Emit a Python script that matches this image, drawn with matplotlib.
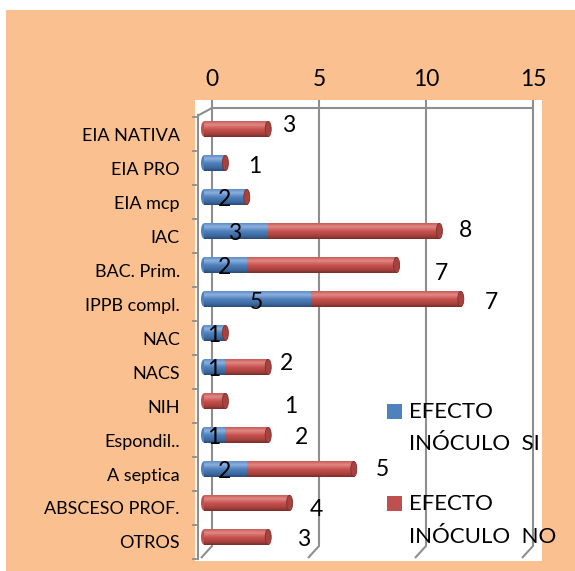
import matplotlib
matplotlib.use("Agg")
import matplotlib.pyplot as plt
import numpy as np
import matplotlib.transforms as mtransforms
from matplotlib.patches import Rectangle, Ellipse
from matplotlib.colors import LinearSegmentedColormap

# ---- data ----
categories = ["EIA NATIVA", "EIA PRO", "EIA mcp", "IAC", "BAC. Prim.", "IPPB compl.",
              "NAC", "NACS", "NIH", "Espondil..", "A septica", "ABSCESO PROF.", "OTROS"]
inoculo_si = [0, 1, 2, 3, 2, 5, 1, 1, 0, 1, 2, 0, 0]
inoculo_no = [3, 0, 0, 8, 7, 7, 0, 2, 1, 2, 5, 4, 3]
x_ticks = [0, 5, 10, 15]
series_names = ["EFECTO\nINÓCULO  SI", "EFECTO\nINÓCULO  NO"]

# data-label nudges in pixels (dx right, dy up)
si_label_dx = [-9, 32, -9, -9, -9, -9, -9, -9, -9, -9, -9, -9, -9]
si_label_dy = [3, 2, 3, 3, 3, 2, 3, 3, 3, 3, 3, 3, 3]
no_label_dx = [12, 0, 0, 18, 37, 23, 0, 10, 57, 25, 21, 19, 27]
no_label_dy = [9, 0, 0, 6, -3, 2, 0, 9, 0, 3, 5, -2, 2]

plt.rcParams["font.family"] = ["Lato", "DejaVu Sans"]

W, H, DPI = 575, 571, 100
PEACH = "#FAC090"
GRID = "#8E8E8E"
BLUE = "#4F81BD"
RED = "#C0504D"


def fx(px):
    return px / W


def fy(py):
    return 1 - py / H


fig = plt.figure(figsize=(W / DPI, H / DPI), dpi=DPI, facecolor="white")
fig.add_artist(Rectangle((fx(6), fy(571)), fx(575) - fx(6), fy(10) - fy(571),
                         transform=fig.transFigure, facecolor=PEACH,
                         edgecolor="none", zorder=-5))

ax = fig.add_axes([fx(195), fy(561), fx(542) - fx(195), fy(100) - fy(561)])
ax.set_facecolor("white")
for s in ax.spines.values():
    s.set_visible(False)

# plot scale: value 0 sits at x=212px, 21.4 px per unit; rows 34 px apart from y=134px
PXU, X0 = 21.4, 212
ROW, R0 = 34, 134


def dx_(px):
    return (px - X0) / PXU


def dy_(py):
    return (py - R0) / ROW


xlim = (dx_(195), dx_(542))
ylim = (dy_(561), dy_(100))

# ---- 3D frame: back-wall gridlines, floor bend, side axis ----
yt, yb = dy_(108), dy_(546)
bend_x, bend_y = -11 / PXU, 12 / ROW
for v in x_ticks:
    ax.plot([v, v, v + bend_x], [yt, yb, yb + bend_y], color=GRID, lw=1.5,
            clip_on=False, zorder=1, solid_capstyle="butt")
ax.plot([x_ticks[0], x_ticks[-1]], [yt, yt], color=GRID, lw=1.5, clip_on=False, zorder=1)
ax.plot([0, dx_(199)], [yt, dy_(115)], color=GRID, lw=1.5, clip_on=False, zorder=1)
xa = dx_(198)
ax.plot([xa, xa], [dy_(115), dy_(559)], color=GRID, lw=1.5, clip_on=False, zorder=1)
for k in range(len(categories) + 1):
    yk = k - 0.5
    ax.plot([dx_(193), xa], [yk, yk], color=GRID, lw=1.3, clip_on=False, zorder=1)

# ---- cylinder bars ----
bar_tr = ax.transData + mtransforms.ScaledTranslation(-8 / DPI, 5 / DPI, fig.dpi_scale_trans)
blue_cmap = LinearSegmentedColormap.from_list(
    "cyl_blue", [(0, "#5F8CC6"), (0.22, "#8DB0DE"), (0.5, "#4F81BD"),
                 (0.82, "#3C679B"), (1, "#284B78")])
red_cmap = LinearSegmentedColormap.from_list(
    "cyl_red", [(0, "#C95A57"), (0.22, "#E08986"), (0.5, "#C9524F"),
                (0.82, "#A2403D"), (1, "#7B2C2A")])
grad = np.linspace(0, 1, 64).reshape(-1, 1)

ypos = np.arange(len(categories))
bh = 0.45
lefts_no = np.array(inoculo_si)
totals = np.array(inoculo_si) + np.array(inoculo_no)

# rounded left ends
for i in ypos:
    if totals[i] > 0:
        c = BLUE if inoculo_si[i] > 0 else RED
        e = Ellipse((0, i), 6 / PXU, bh, facecolor=c, edgecolor="none", zorder=2)
        e.set_transform(bar_tr)
        ax.add_patch(e)

for vals, lefts, cmap, base in [(inoculo_si, np.zeros(len(categories)), blue_cmap, BLUE),
                                (inoculo_no, lefts_no, red_cmap, RED)]:
    bars = ax.barh(ypos, vals, left=lefts, height=bh, color=base, zorder=3)
    for b in bars:
        b.set_transform(bar_tr)
        w = b.get_width()
        if w <= 0:
            continue
        x0, y0 = b.get_x(), b.get_y()
        im = ax.imshow(grad, cmap=cmap, aspect="auto", interpolation="bilinear",
                       extent=(x0, x0 + w, y0 + bh, y0), origin="upper", zorder=3.5)
        im.set_transform(bar_tr)
        im.set_clip_path(b)

# right end caps (top series colour)
for i in ypos:
    if totals[i] > 0:
        e = Ellipse((totals[i], i), 6 / PXU, bh, facecolor="#A8423F",
                    edgecolor="#7E2F2D", lw=0.6, zorder=4)
        e.set_transform(bar_tr)
        ax.add_patch(e)

# ---- data labels ----
for i in ypos:
    if inoculo_si[i] > 0:
        ax.annotate(str(inoculo_si[i]), xy=(inoculo_si[i] / 2, i),
                    xytext=(si_label_dx[i], si_label_dy[i]), textcoords="offset pixels",
                    ha="center", va="center", fontsize=16.5, zorder=6)
    if inoculo_no[i] > 0:
        ax.annotate(str(inoculo_no[i]), xy=(totals[i], i),
                    xytext=(no_label_dx[i], no_label_dy[i]), textcoords="offset pixels",
                    ha="center", va="center", fontsize=16.5, zorder=6)

# ---- axes ----
ax.set_xlim(*xlim)
ax.set_ylim(*ylim)
ax.set_xticks(x_ticks)
ax.set_xticklabels([str(t) for t in x_ticks], fontsize=16.5)
ax.xaxis.tick_top()
ax.tick_params(axis="x", direction="in", length=5.8, width=1.5, color=GRID,
               top=True, bottom=False, labeltop=True, labelbottom=False, pad=7.5)
ax.set_yticks(ypos)
ax.set_yticklabels(categories, fontsize=13)
ax.tick_params(axis="y", length=0, pad=10.8)

# ---- legend ----
leg_rows = [(BLUE, 404, 418, 450), (RED, 496, 510, 543)]
for (col, top_px, base1, base2), name in zip(leg_rows, series_names):
    fig.add_artist(Rectangle((fx(387), fy(top_px + 15)), fx(15), 15 / H,
                             transform=fig.transFigure, facecolor=col, edgecolor="none"))
    line1, line2 = name.split("\n")
    fig.text(fx(409), fy(base1), line1, fontsize=16, va="baseline", ha="left")
    fig.text(fx(409), fy(base2), line2, fontsize=16, va="baseline", ha="left")

fig.savefig("out.png", dpi=DPI, facecolor=fig.get_facecolor())
